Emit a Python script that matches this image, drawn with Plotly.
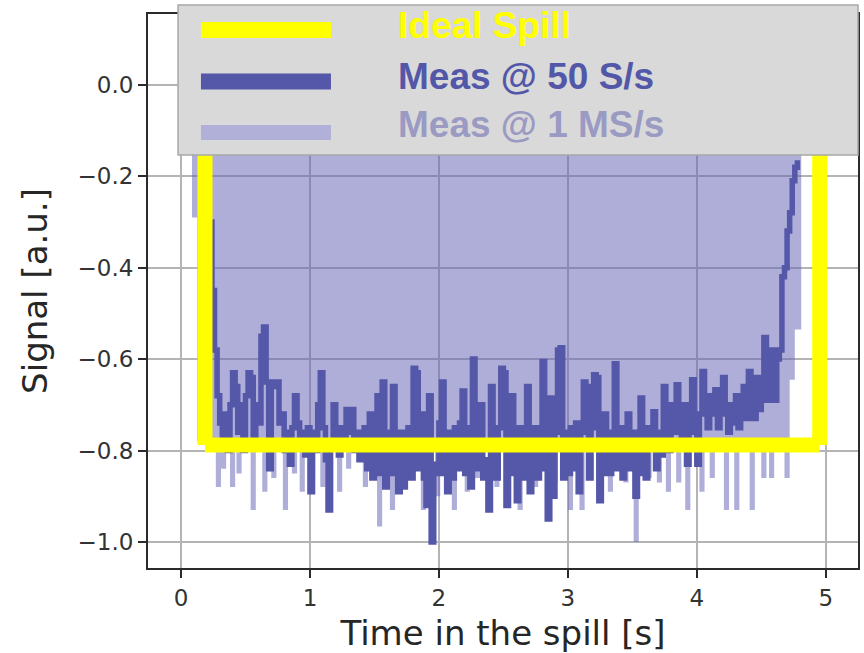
import plotly.graph_objects as go

# ---------------- data ----------------
# Measurement @ 50 S/s (sample period 0.02 s), first sample at t = 0.22 s
slow_t0 = 0.22
slow_dt = 0.02
slow_y = [
    -0.30, -0.45, -0.58, -0.68, -0.74, -0.78, -0.72, -0.80, -0.70, -0.63,
    -0.66, -0.76, -0.70, -0.80, -0.68, -0.63, -0.64, -0.78, -0.70, -0.74,
    -0.55, -0.53, -0.65, -0.84, -0.65, -0.66, -0.65, -0.74, -0.72, -0.80,
    -0.76, -0.83, -0.75, -0.68, -0.74, -0.79, -0.76, -0.81, -0.75, -0.89,
    -0.76, -0.80, -0.70, -0.63, -0.75, -0.82, -0.93, -0.78, -0.70, -0.77,
    -0.81, -0.75, -0.79, -0.71, -0.76, -0.71, -0.80, -0.76, -0.82, -0.77,
    -0.75, -0.84, -0.72, -0.86, -0.84, -0.68, -0.85, -0.65, -0.88, -0.76,
    -0.85, -0.66, -0.83, -0.89, -0.76, -0.88, -0.84, -0.75, -0.86, -0.62,
    -0.63, -0.84, -0.72, -0.86, -0.92, -0.68, -1.00, -0.83, -0.85, -0.74,
    -0.65, -0.85, -0.89, -0.76, -0.86, -0.75, -0.84, -0.74, -0.67, -0.85,
    -0.75, -0.88, -0.60, -0.84, -0.80, -0.70, -0.86, -0.82, -0.93, -0.66,
    -0.83, -0.86, -0.75, -0.62, -0.63, -0.92, -0.76, -0.68, -0.85, -0.91,
    -0.75, -0.86, -0.76, -0.66, -0.89, -0.84, -0.75, -0.86, -0.77, -0.605,
    -0.84, -0.95, -0.685, -0.90, -0.76, -0.58, -0.575, -0.86, -0.76, -0.85,
    -0.75, -0.84, -0.74, -0.89, -0.76, -0.65, -0.66, -0.86, -0.75, -0.634,
    -0.64, -0.91, -0.77, -0.72, -0.85, -0.85, -0.76, -0.61, -0.84, -0.75,
    -0.86, -0.76, -0.72, -0.84, -0.76, -0.90, -0.77, -0.685, -0.85, -0.86,
    -0.75, -0.78, -0.715, -0.84, -0.76, -0.81, -0.66, -0.75, -0.80, -0.70,
    -0.76, -0.656, -0.74, -0.78, -0.70, -0.83, -0.74, -0.645, -0.76, -0.83,
    -0.72, -0.627, -0.70, -0.75, -0.68, -0.72, -0.667, -0.75, -0.70, -0.64,
    -0.72, -0.76, -0.70, -0.74, -0.68, -0.75, -0.70, -0.66, -0.73, -0.627,
    -0.70, -0.73, -0.64, -0.71, -0.66, -0.553, -0.69, -0.63, -0.58, -0.69,
    -0.60, -0.58, -0.42, -0.40, -0.32, -0.28, -0.21, -0.18, -0.165,
]
slow_t = [slow_t0 + slow_dt * i for i in range(len(slow_y))]

# Measurement @ 1 MS/s : envelope of the dense trace
fast_top = 0.10                       # upper envelope (hidden behind legend)
fast_seg_t = [0.085, 0.125, 0.24]     # start times of leading envelope segments
fast_seg_lo = [-0.29, -0.78, -0.80]   # lower envelope of those segments
fast_base_lo = -0.80                  # lower envelope between spikes
fast_spike_t = [0.29, 0.33, 0.40, 0.45, 0.56, 0.65, 0.72, 0.81, 0.88, 0.94,
                1.02, 1.10, 1.23, 1.30, 1.43, 1.54, 1.64, 1.75, 1.88, 1.99,
                2.12, 2.22, 2.30, 2.45, 2.56, 2.63, 2.75, 2.90, 3.02, 3.11,
                3.25, 3.33, 3.45, 3.53, 3.63, 3.71, 3.78, 3.86, 3.93, 4.04,
                4.12, 4.23, 4.31, 4.43, 4.52, 4.58, 4.70]
fast_spike_lo = [-0.88, -0.84, -0.88, -0.85, -0.93, -0.89, -0.86, -0.93, -0.85, -0.89,
                 -0.86, -0.88, -0.89, -0.84, -0.88, -0.966, -0.93, -0.86, -0.93, -0.90,
                 -0.93, -0.89, -0.86, -0.88, -0.85, -0.93, -0.88, -0.87, -0.93, -0.93,
                 -0.88, -0.89, -0.87, -1.00, -0.86, -0.87, -0.89, -0.87, -0.93, -0.89,
                 -0.86, -0.93, -0.93, -0.93, -0.86, -0.86, -0.86]
fast_spike_w = 0.04
fast_tail_t = [4.72, 4.76, 4.81]      # tail segments start times, last = end
fast_tail_lo = [-0.645, -0.535]

# Ideal spill
ideal_t = [0.186, 0.186, None, 0.186, 4.953, None, 4.953, 4.953]
ideal_y = [0.12, -0.788, None, -0.788, -0.788, None, -0.788, 0.12]

x_ticks = [0, 1, 2, 3, 4, 5]
y_ticks = [0.0, -0.2, -0.4, -0.6, -0.8, -1.0]
y_ticklabels = ["0.0", "\u22120.2", "\u22120.4", "\u22120.6", "\u22120.8", "\u22121.0"]

legend_names = ["Ideal Spill", "Meas @ 50 S/s", "Meas @ 1 MS/s"]

# ---------------- build 1 MS/s envelope polygon ----------------
segs = []
for i in range(len(fast_seg_t) - 1):
    segs.append([fast_seg_t[i], fast_seg_t[i + 1], fast_seg_lo[i]])
cur = fast_seg_t[-1]
for c, d in zip(fast_spike_t, fast_spike_lo):
    a, b = c - fast_spike_w / 2, c + fast_spike_w / 2
    if a > cur:
        segs.append([cur, a, fast_base_lo])
    segs.append([a, b, d])
    cur = b
segs.append([cur, fast_tail_t[0], fast_base_lo])
for i in range(len(fast_tail_lo)):
    segs.append([fast_tail_t[i], fast_tail_t[i + 1], fast_tail_lo[i]])

poly_x, poly_y = [segs[0][0]], [fast_top]
for a, b, v in segs:
    poly_x += [a, b]
    poly_y += [v, v]
poly_x += [segs[-1][1], segs[0][0]]
poly_y += [fast_top, fast_top]

# ---------------- figure ----------------
DARK = "#5557a9"
FILL = "rgba(100,100,182,0.52)"
YEL = "#ffff00"

fig = go.Figure()
fig.add_trace(go.Scatter(x=poly_x, y=poly_y, mode="lines", fill="toself",
                         fillcolor=FILL, line=dict(width=0), hoverinfo="skip",
                         name=legend_names[2]))
fig.add_trace(go.Scatter(x=slow_t, y=slow_y, mode="lines",
                         line=dict(color=DARK, width=5.5, shape="hv"),
                         name=legend_names[1]))
fig.add_trace(go.Scatter(x=ideal_t, y=ideal_y, mode="lines",
                         line=dict(color=YEL, width=15), name=legend_names[0]))

axis_common = dict(showgrid=True, gridcolor="#b4b4b4", gridwidth=1.5,
                   showline=True, linecolor="#2b2b2b", linewidth=2, mirror=True,
                   ticks="outside", ticklen=8, tickwidth=2, tickcolor="#2b2b2b",
                   tickfont=dict(family="DejaVu Sans", size=23, color="#333333"),
                   zeroline=False, automargin=False)

fig.update_xaxes(range=[-0.256, 5.25], tickvals=x_ticks,
                 ticktext=[str(v) for v in x_ticks],
                 title=dict(text="Time in the spill [s]", standoff=12,
                            font=dict(family="DejaVu Sans", size=34, color="#262626")),
                 **axis_common)
fig.update_yaxes(range=[-1.057, 0.155], tickvals=y_ticks, ticktext=y_ticklabels,
                 title=dict(text="Signal [a.u.]", standoff=20,
                            font=dict(family="DejaVu Sans", size=34, color="#262626")),
                 **axis_common)

# legend drawn as a box overlay (paper coordinates of the plot area)
shapes = [dict(type="rect", xref="paper", yref="paper", x0=0.0423, x1=1.0,
               y0=0.7455, y1=1.0162, fillcolor="#d9d9d9",
               line=dict(color="#a8a8a8", width=1.5), layer="above")]
sample_y = [0.9711, 0.8782, 0.7861]
sample_col = [YEL, DARK, "#b0b0d8"]
sample_w = [16, 16, 15]
text_y = [0.979, 0.887, 0.800]
text_col = [YEL, "#5357a8", "#9a9ac3"]
annotations = []
for i in range(3):
    shapes.append(dict(type="line", xref="paper", yref="paper", x0=0.0746, x1=0.2577,
                       y0=sample_y[i], y1=sample_y[i],
                       line=dict(color=sample_col[i], width=sample_w[i]), layer="above"))
    annotations.append(dict(xref="paper", yref="paper", x=0.3493, y=text_y[i],
                            xanchor="left", yanchor="middle", showarrow=False,
                            text="<b>" + legend_names[i] + "</b>",
                            font=dict(family="Liberation Sans", size=37, color=text_col[i])))

fig.update_layout(width=864, height=653, showlegend=False,
                  paper_bgcolor="white", plot_bgcolor="white",
                  margin=dict(l=148, r=6, t=14, b=85),
                  shapes=shapes, annotations=annotations)

fig.write_html("out.html", config={"displayModeBar": False},
               post_script="document.body.style.margin='0px';document.body.style.overflow='hidden';")
